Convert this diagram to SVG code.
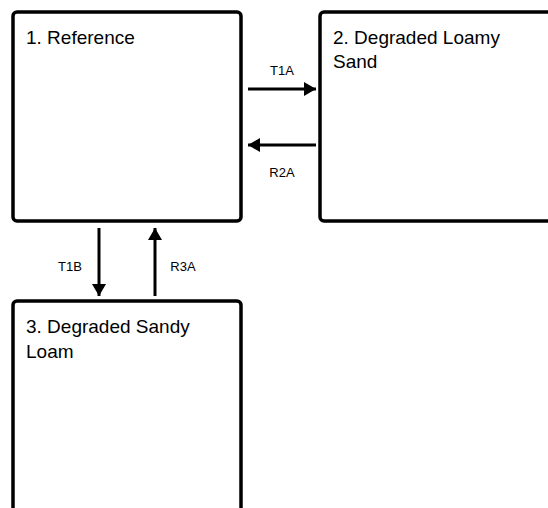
<svg xmlns="http://www.w3.org/2000/svg" width="548" height="508" viewBox="0 0 548 508">
<style>
.box{fill:#fff;stroke:#000;stroke-width:3.5}
.t{font-family:"Liberation Sans",Arial,sans-serif;font-size:19px;fill:#000}
.l{font-family:"Liberation Sans",Arial,sans-serif;font-size:13px;fill:#000;text-anchor:middle}
.c{stroke:#000;stroke-width:3;fill:none;marker-end:url(#ah)}
</style>
<defs>
<marker id="ah" markerUnits="userSpaceOnUse" markerWidth="12" markerHeight="14" refX="12" refY="7" orient="auto">
<path d="M0,0 L12,7 L0,14 Z" fill="#000"/>
</marker>
</defs>
<rect width="548" height="508" fill="#fff"/>
<g id="node1">
<rect class="box" x="13" y="12" width="228" height="209" rx="4"/>
<text class="t" x="26" y="44">1. Reference</text>
</g>
<g id="node2">
<rect class="box" x="320" y="12" width="240" height="209" rx="4"/>
<text class="t" x="333" y="44">2. Degraded Loamy</text>
<text class="t" x="333" y="68">Sand</text>
</g>
<g id="node3">
<rect class="box" x="13" y="301" width="228" height="220" rx="4"/>
<text class="t" x="26" y="333">3. Degraded Sandy</text>
<text class="t" x="26" y="358">Loam</text>
</g>
<g id="connectors">
<line class="c" x1="248" y1="89" x2="316" y2="89"/>
<line class="c" x1="316" y1="145" x2="248" y2="145"/>
<line class="c" x1="99" y1="228" x2="99" y2="296"/>
<line class="c" x1="155" y1="296" x2="155" y2="228"/>
<text class="l" x="282" y="75">T1A</text>
<text class="l" x="282" y="177">R2A</text>
<text class="l" x="70" y="271">T1B</text>
<text class="l" x="183" y="271">R3A</text>
</g>
</svg>
